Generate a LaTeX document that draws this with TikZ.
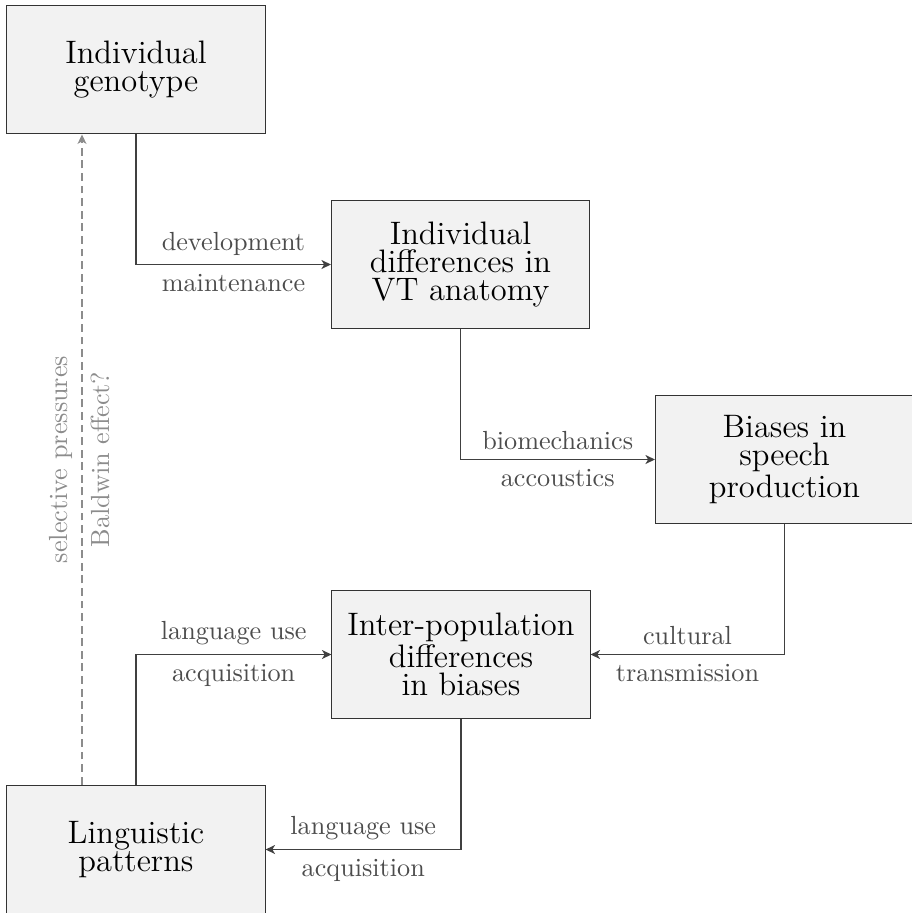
\documentclass[tikz,border=0pt]{standalone}
\usetikzlibrary{arrows.meta}
\definecolor{boxfill}{HTML}{F2F2F2}
\begin{document}
\begin{tikzpicture}[x=0.3817pt,y=-0.3817pt,
  box/.style={draw=black!80, fill=boxfill, minimum width=98.5pt, minimum height=49.2pt,
    inner sep=0pt, align=center, font=\fontsize{12.4}{10.6}\selectfont},
  arr/.style={draw=black!75, line width=0.5pt, -{Stealth[length=3.6pt,width=3.4pt,inset=1pt]}},
  lab/.style={text=black!70, font=\fontsize{10}{12}\selectfont},
  dsh/.style={draw=black!45, line width=0.5pt, dash pattern=on 3pt off 1.8pt,
    -{Stealth[length=3.6pt,width=3.4pt,inset=1pt]}},
  vlab/.style={text=black!45, font=\fontsize{10}{12}\selectfont}
]
\useasboundingbox (0,0) rectangle (911,913);
\node[box] (G) at (136,69.5) {Individual\\genotype};
\node[box] (VT) at (460.5,264.5) {Individual\\differences in\\VT anatomy};
\node[box] (B) at (784.5,459.5) {Biases in\\speech\\production};
\node[box] (I) at (461,654.5) {Inter-population\\differences\\in biases};
\node[box] (L) at (136,849.5) {Linguistic\\patterns};

\draw[arr] (G.south) |- node[pos=0.75,above,lab]{development} node[pos=0.75,below,lab]{maintenance} (VT.west);
\draw[arr] (VT.south) |- node[pos=0.75,above,lab]{biomechanics} node[pos=0.75,below,lab]{accoustics} (B.west);
\draw[arr] (B.south) |- node[pos=0.75,above,lab]{cultural} node[pos=0.75,below,lab]{transmission} (I.east);
\draw[arr] (I.south) |- node[pos=0.75,above,lab]{language use} node[pos=0.75,below,lab]{acquisition} (L.east);
\draw[arr] (L.north) |- node[pos=0.75,above,lab]{language use} node[pos=0.75,below,lab]{acquisition} (I.west);

\coordinate (dx) at (82,0);
\draw[dsh] (L.north -| dx) -- node[midway,sloped,above,vlab]{selective pressures} node[midway,sloped,below,vlab]{Baldwin effect?} (G.south -| dx);
\end{tikzpicture}
\end{document}
